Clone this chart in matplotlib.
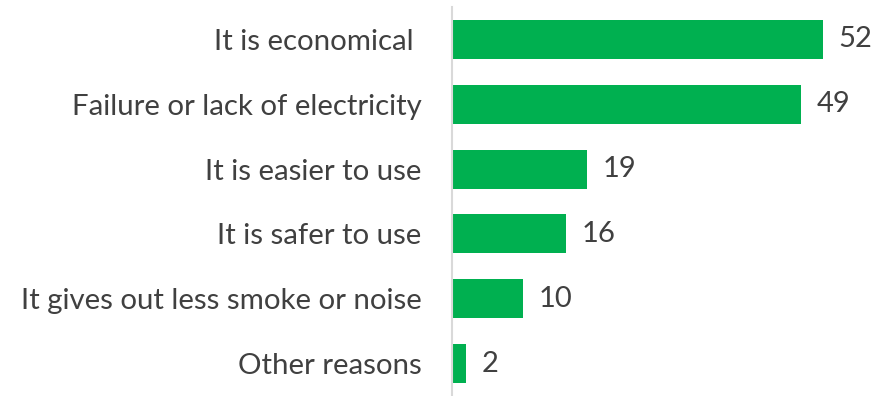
import matplotlib

matplotlib.use("Agg")
import matplotlib.pyplot as plt

# reasons, top to bottom
REASONS = [
    "It is economical ",
    "Failure or lack of electricity",
    "It is easier to use",
    "It is safer to use",
    "It gives out less smoke or noise",
    "Other reasons",
]
VALUES = [52, 49, 19, 16, 10, 2]

GREEN = "#00b050"
TEXT = "#404040"
AXIS = "#d9d9d9"

plt.rcParams["font.family"] = ["Lato", "DejaVu Sans"]

fig = plt.figure(figsize=(8.77, 3.96), dpi=100)
ax = fig.add_axes([452 / 877, 0.0, 425 / 877, 389 / 396])

ypos = list(range(len(REASONS)))
bars = ax.barh(ypos, VALUES, height=0.6, color=GREEN)
for b, v in zip(bars, VALUES):
    ax.annotate(f"{v}", (b.get_width(), b.get_y() + b.get_height() / 2),
                textcoords="offset points", xytext=(11, 0), va="center",
                ha="left", color=TEXT, fontsize=21)

ax.set_xlim(0, 59.6)
ax.set_ylim(len(REASONS) - 0.5, -0.5)
ax.set_yticks(ypos)
ax.set_yticklabels(REASONS, color=TEXT, fontsize=21.2)
ax.tick_params(axis="y", length=0, pad=22)
ax.set_xticks([])
for s in ("top", "right", "bottom"):
    ax.spines[s].set_visible(False)
ax.spines["left"].set_color(AXIS)
ax.spines["left"].set_linewidth(1.5)

fig.savefig("out.png", dpi=100)
